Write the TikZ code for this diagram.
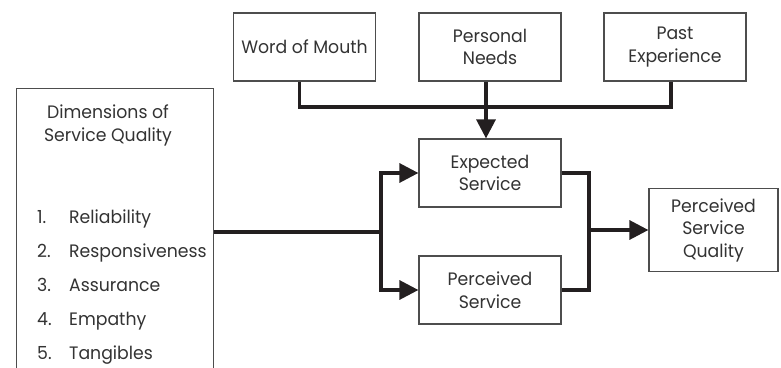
\documentclass[tikz,border=0pt]{standalone}
\usepackage{fontspec}
\setmainfont{Poppins}[FakeStretch=0.96]
\usetikzlibrary{arrows.meta}
\definecolor{ink}{HTML}{231F20}
\definecolor{txt}{HTML}{333333}
\definecolor{frame}{HTML}{4D4D4D}
\newcommand\lbl{\fontsize{18}{22.5}\selectfont}
\begin{document}
\begin{tikzpicture}[x=1pt,y=-1pt,
  box/.style={draw=frame, line width=1.2pt, fill=white, minimum width=142pt,
    minimum height=68pt, inner sep=0pt, align=center, font=\lbl, text=txt},
  label/.style={font=\lbl, text=txt, inner sep=0pt, anchor=base},
  wire/.style={draw=ink, line width=3.3pt},
  arr/.style={wire, -{Triangle[length=19pt,width=19pt]}},
]
\clip (0,0) rectangle (781,367);

% input factors
\node[box] (wom)  at (304.5,47) {Word of Mouth};
\node[box] (pn)   at (490,47)   {Personal\\Needs};
\node[box] (past) at (675,47)   {Past\\Experience};

% the two service boxes and the result
\node[box] (exp)  at (490,173) {Expected\\Service};
\node[box] (perc) at (490,290) {Perceived\\Service};
\node[box, minimum width=129pt, minimum height=83pt] (psq) at (713.5,230)
  {Perceived\\Service\\Quality};

% dimensions panel, open at the bottom edge
\node[draw=frame, line width=1.2pt, minimum width=197pt, minimum height=300pt,
  inner sep=0pt, anchor=north west] (dims) at (16,88) {};
\node[label] (dimA) at (108,118) {Dimensions of};
\node[label] (dimB) at (108,141) {Service Quality};
\foreach \n/\t [count=\i] in {1/Reliability, 2/Responsiveness, 3/Assurance,
    4/Empathy, 5/Tangibles} {
  \node[label, anchor=base west] (num\i)  at (37,189+34*\i) {\n.};
  \node[label, anchor=base west] (item\i) at (69,189+34*\i) {\t};
}

% connector points
\coordinate (bus)   at (0,107);
\coordinate (d1)    at ([xshift=-5pt]wom.south);
\coordinate (d2)    at ([xshift=-4pt]pn.south);
\coordinate (d3)    at ([xshift=-4pt]past.south);
\coordinate (split) at (381,232);
\coordinate (join)  at (589,230);

% factors feed the expected service
\draw[wire] (d1) -- (d1 |- bus) -- (d3 |- bus) -- (d3);
\draw[arr] (d2) -- (d2 |- exp.north);

% dimensions feed both service boxes
\draw[wire] (dims.east |- split) -- (split);
\draw[arr] (split) |- (exp.west);
\draw[arr] (split) |- (perc.west);

% both services combine into perceived quality
\draw[wire] (exp.east) -| (join) |- (perc.east);
\draw[arr] (join) -- (psq.west);
\end{tikzpicture}
\end{document}
